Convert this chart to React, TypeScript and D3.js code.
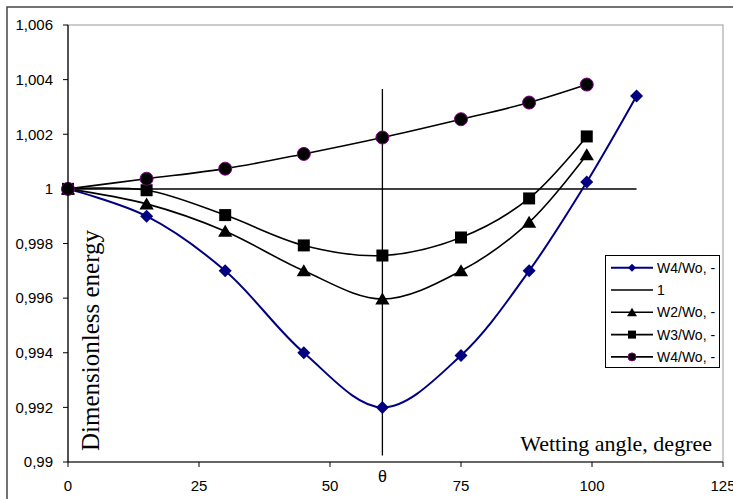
import React from "react";
import * as d3 from "d3";

// wetting angle, degree
const anglesLong = [0, 15, 30, 45, 60, 75, 88, 99, 108.5];
const anglesShort = [0, 15, 30, 45, 60, 75, 88, 99];

// dimensionless energy series
const w4Diamond = [1, 0.999, 0.997, 0.994, 0.992, 0.9939, 0.997, 1.00025, 1.0034];
const w2Triangle = [1, 0.99945, 0.99845, 0.997, 0.99597, 0.997, 0.99878, 1.00125];
const w3Square = [1, 0.99995, 0.99904, 0.99793, 0.99756, 0.99822, 0.99965, 1.00192];
const w4Circle = [1, 1.00037, 1.00074, 1.00128, 1.00188, 1.00255, 1.00316, 1.00382];

// reference line "1" and theta marker
const oneX = [0, 108.5];
const oneY = [1, 1];
const thetaX = 60;
const thetaY = [0.99024, 1.00366];

const yTicks = [0.99, 0.992, 0.994, 0.996, 0.998, 1, 1.002, 1.004, 1.006];
const yTickLabels = ["0,99", "0,992", "0,994", "0,996", "0,998", "1", "1,002", "1,004", "1,006"];
const xTicks = [0, 25, 50, 75, 100, 125];

const legendLabels = ["W4/Wo, -", "1", "W2/Wo, -", "W3/Wo, -", "W4/Wo, -"];

const W = 733;
const H = 499;
const left = 68;
const right = 723;
const top = 25;
const bottom = 462;

const NAVY = "#000080";

const x = d3.scaleLinear().domain([0, 125]).range([left, right]);
const y = d3.scaleLinear().domain([0.99, 1.006]).range([bottom, top]);

const smooth = d3
  .line<[number, number]>()
  .x((d) => x(d[0]))
  .y((d) => y(d[1]))
  .curve(d3.curveCatmullRom.alpha(0.5));

const straight = d3
  .line<[number, number]>()
  .x((d) => x(d[0]))
  .y((d) => y(d[1]));

const zip = (xs: number[], ys: number[]) => xs.map((v, i) => [v, ys[i]] as [number, number]);

const Marker = ({ kind, cx, cy, s }: { kind: string; cx: number; cy: number; s: number }) => {
  if (kind === "diamond") {
    return (
      <path
        d={`M${cx},${cy - s}L${cx + s},${cy}L${cx},${cy + s}L${cx - s},${cy}Z`}
        fill={NAVY}
      />
    );
  }
  if (kind === "square") {
    return <rect x={cx - s} y={cy - s} width={2 * s} height={2 * s} fill="#000" />;
  }
  if (kind === "triangle") {
    return (
      <path
        d={`M${cx},${cy - s}L${cx + s * 1.1},${cy + s * 0.85}L${cx - s * 1.1},${cy + s * 0.85}Z`}
        fill="#000"
      />
    );
  }
  return <circle cx={cx} cy={cy} r={s} fill="#000" stroke="#800080" strokeWidth={1} />;
};

export default function App() {
  const series = [
    { kind: "diamond", pts: zip(anglesLong, w4Diamond), color: NAVY, size: 6.5 },
    { kind: "triangle", pts: zip(anglesShort, w2Triangle), color: "#000", size: 6.5 },
    { kind: "square", pts: zip(anglesShort, w3Square), color: "#000", size: 6 },
    { kind: "circle", pts: zip(anglesShort, w4Circle), color: "#000", size: 6.5 },
  ];

  const legendRows = [
    { kind: "diamond", color: NAVY, s: 4 },
    { kind: "none", color: "#000", s: 0 },
    { kind: "triangle", color: "#000", s: 4.5 },
    { kind: "square", color: "#000", s: 4 },
    { kind: "circle", color: "#000", s: 4 },
  ];

  return (
    <svg
      width={W}
      height={H}
      style={{ position: "absolute", left: 0, top: 0, background: "#fff" }}
    >
      {/* outer chart frame */}
      <rect x={7} y={7} width={760} height={520} fill="#fff" stroke="#444" strokeWidth={1.5} />

      {/* plot area border */}
      <rect x={left} y={top} width={right - left} height={bottom - top} fill="none" stroke="#999" strokeWidth={1} />

      {/* theta line */}
      <line
        x1={x(thetaX)}
        x2={x(thetaX)}
        y1={y(thetaY[0])}
        y2={y(thetaY[1])}
        stroke="#000"
        strokeWidth={1.3}
      />

      {/* line "1" */}
      <path d={straight(zip(oneX, oneY)) || ""} fill="none" stroke="#000" strokeWidth={1.5} />

      {series.map((s, i) => (
        <g key={i}>
          <path d={smooth(s.pts) || ""} fill="none" stroke={s.color} strokeWidth={s.kind === "diamond" ? 2 : 1.6} />
          {s.pts.map((p, j) => (
            <Marker key={j} kind={s.kind} cx={x(p[0])} cy={y(p[1])} s={s.size} />
          ))}
        </g>
      ))}

      {/* axes */}
      <line x1={left} x2={left} y1={top} y2={bottom} stroke="#000" strokeWidth={1.2} />
      <line x1={left} x2={right} y1={bottom} y2={bottom} stroke="#000" strokeWidth={1.2} />
      {yTicks.map((t, i) => (
        <g key={i}>
          <line x1={left - 5} x2={left} y1={y(t)} y2={y(t)} stroke="#000" />
          <text
            x={53}
            y={y(t)}
            dy="0.35em"
            textAnchor="end"
            fontFamily="Liberation Sans, Arial, sans-serif"
            fontSize={15}
          >
            {yTickLabels[i]}
          </text>
        </g>
      ))}
      {xTicks.map((t) => (
        <g key={t}>
          <line x1={x(t)} x2={x(t)} y1={bottom} y2={bottom + 5} stroke="#000" />
          <text
            x={x(t)}
            y={491}
            textAnchor="middle"
            fontFamily="Liberation Sans, Arial, sans-serif"
            fontSize={15}
          >
            {t}
          </text>
        </g>
      ))}

      {/* theta label */}
      <text
        x={x(thetaX)}
        y={482}
        textAnchor="middle"
        fontFamily="Liberation Sans, Arial, sans-serif"
        fontSize={16}
      >
        θ
      </text>

      {/* axis titles */}
      <text
        x={712}
        y={451}
        textAnchor="end"
        fontFamily="Liberation Serif, Times New Roman, serif"
        fontSize={22}
      >
        Wetting angle, degree
      </text>
      <text
        transform={`translate(99,${451}) rotate(-90)`}
        textAnchor="start"
        fontFamily="Liberation Serif, Times New Roman, serif"
        fontSize={25}
      >
        Dimensionless energy
      </text>

      {/* legend */}
      <rect x={605.5} y={255.5} width={114} height={112} fill="#fff" stroke="#000" strokeWidth={1} />
      {legendLabels.map((lab, i) => {
        const ly = 267.7 + i * 22.3;
        const r = legendRows[i];
        return (
          <g key={i}>
            <line x1={611} x2={653} y1={ly} y2={ly} stroke={r.color} strokeWidth={r.kind === "diamond" ? 2 : 1.6} />
            {r.kind !== "none" && <Marker kind={r.kind} cx={632} cy={ly} s={r.s} />}
            <text
              x={657}
              y={ly}
              dy="0.35em"
              fontFamily="Liberation Sans, Arial, sans-serif"
              fontSize={14}
            >
              {lab}
            </text>
          </g>
        );
      })}
    </svg>
  );
}
